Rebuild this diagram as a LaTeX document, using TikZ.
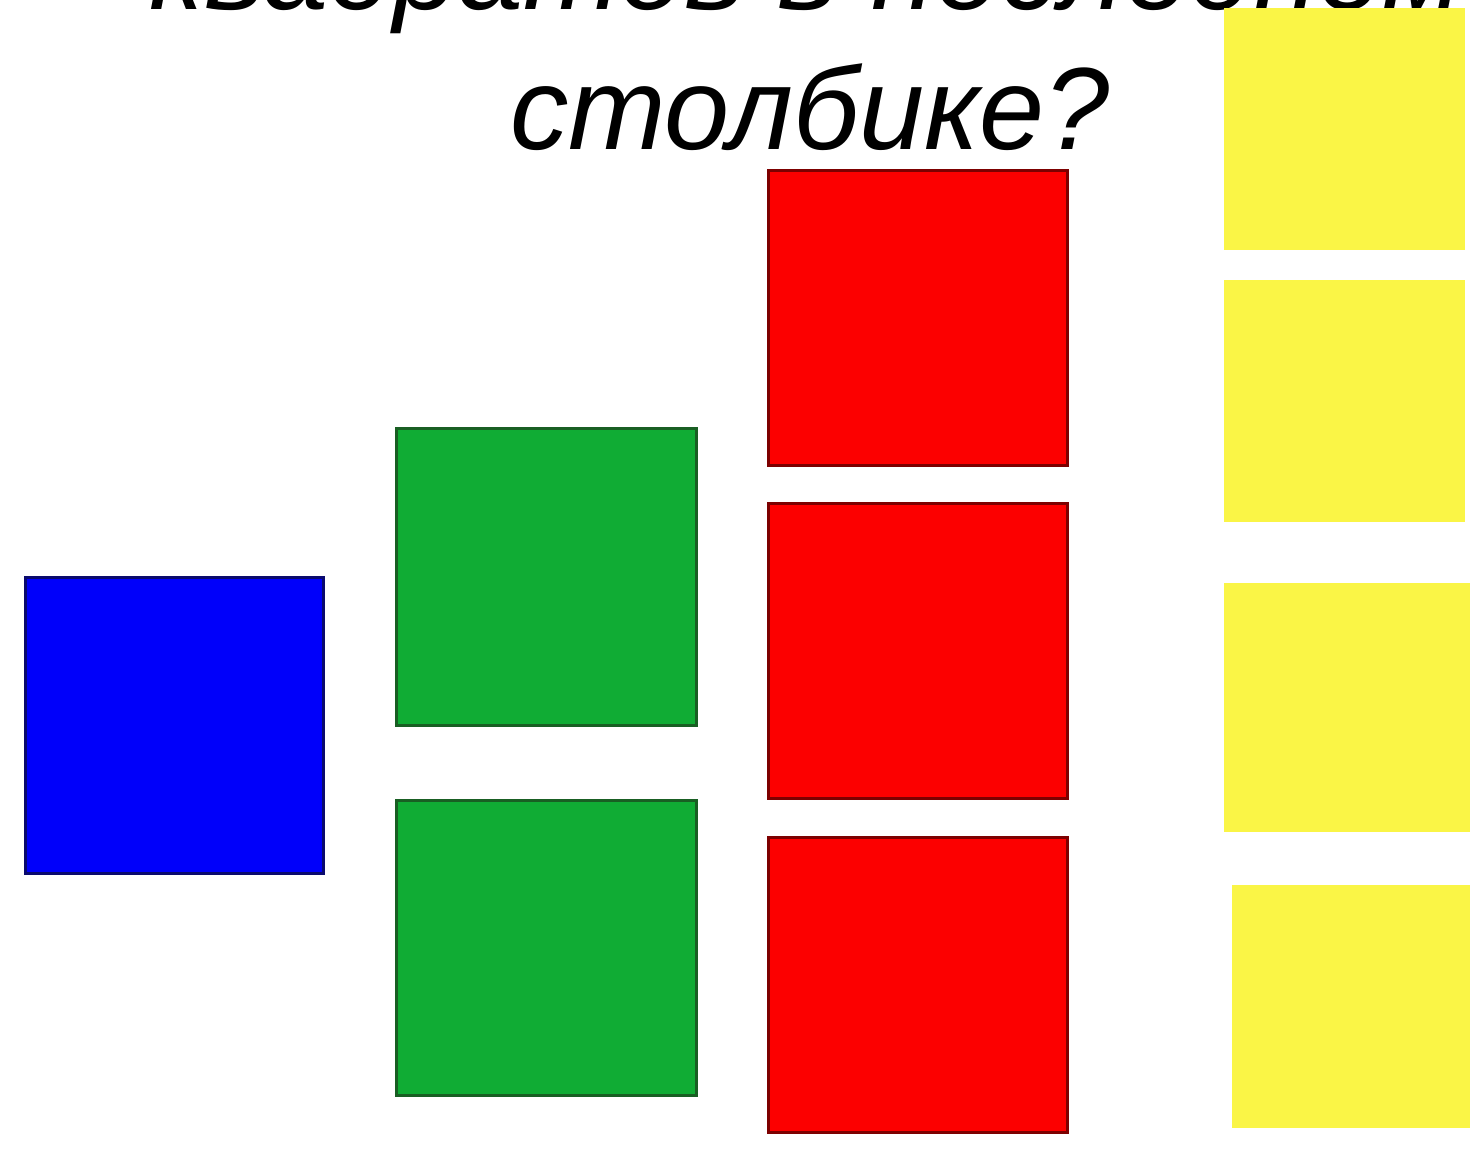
\documentclass[tikz,border=0pt]{standalone}
\usepackage{fontspec}
\setmainfont{Liberation Sans}
\definecolor{bluesq}{RGB}{0,0,250}
\definecolor{blueedge}{RGB}{10,10,110}
\definecolor{greensq}{RGB}{16,172,52}
\definecolor{greenedge}{RGB}{25,95,35}
\definecolor{redsq}{RGB}{252,0,0}
\definecolor{rededge}{RGB}{125,0,0}
\definecolor{yellowsq}{RGB}{250,245,70}
\begin{document}
\begin{tikzpicture}[x=1pt,y=-1pt,
  sq/.style={rectangle, inner sep=0pt, outer sep=0pt, anchor=north west, line width=3pt},
  bluebox/.style={sq, fill=bluesq, draw=blueedge},
  greenbox/.style={sq, fill=greensq, draw=greenedge},
  redbox/.style={sq, fill=redsq, draw=rededge},
  yellowbox/.style={sq, fill=yellowsq, draw=none},
  question/.style={anchor=base, inner sep=0pt, text=black, font=\fontsize{117}{140}\selectfont\itshape}]
\useasboundingbox[fill=white] (0,0) rectangle (1479,1152);
\clip (0,0) rectangle (1479,1152);
% question text (first line cut off at the top)
\node[question] (t1) at (806,9) {квадратов в последнем};
\node[question] (t2) at (810,149) {столбике?};
% column 1
\node[bluebox, minimum width=298pt, minimum height=296pt] (b1) at (25,577) {};
% column 2
\node[greenbox, minimum width=300pt, minimum height=297pt] (g1) at (396,428) {};
\node[greenbox, minimum width=300pt, minimum height=295pt] (g2) at (396,800) {};
% column 3
\node[redbox, minimum width=299pt, minimum height=295pt] (r1) at (768,170) {};
\node[redbox, minimum width=299pt, minimum height=295pt] (r2) at (768,503) {};
\node[redbox, minimum width=299pt, minimum height=295pt] (r3) at (768,837) {};
% column 4
\node[yellowbox, minimum width=241pt, minimum height=242pt] (y1) at (1224,8) {};
\node[yellowbox, minimum width=241pt, minimum height=242pt] (y2) at (1224,280) {};
\node[yellowbox, minimum width=246pt, minimum height=249pt] (y3) at (1224,583) {};
\node[yellowbox, minimum width=238pt, minimum height=243pt] (y4) at (1232,885) {};
\end{tikzpicture}
\end{document}
